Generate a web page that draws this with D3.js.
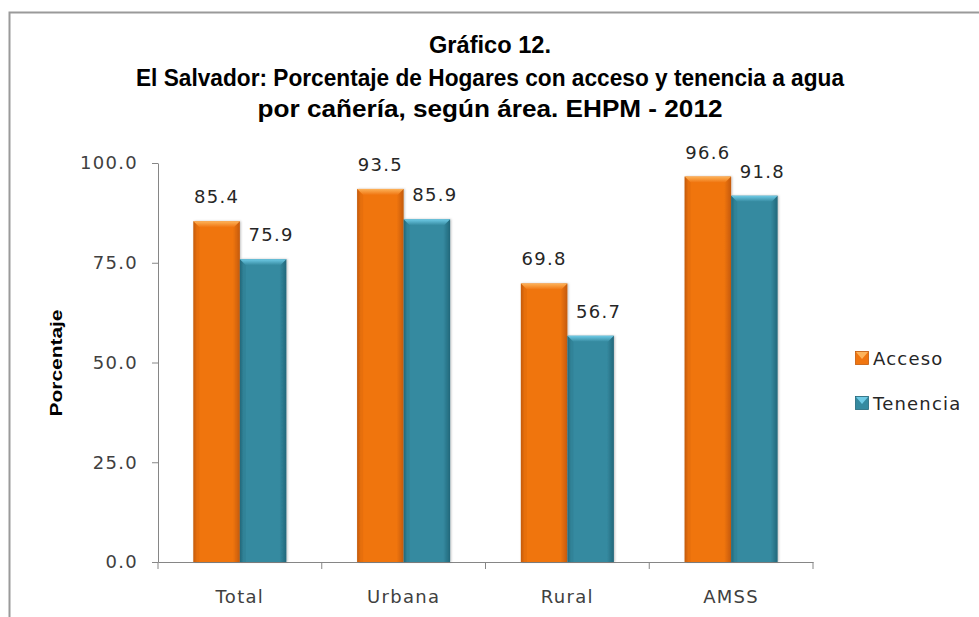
<!DOCTYPE html>
<html><head><meta charset="utf-8">
<script src="https://cdn.jsdelivr.net/npm/d3@7"></script>
<style>body{margin:0;background:#fff}</style>
</head><body>
<svg id="c" width="979" height="617"></svg>
<script>
const categories = ["Total","Urbana","Rural","AMSS"];
const acceso = [85.4, 93.5, 69.8, 96.6];
const tenencia = [75.9, 85.9, 56.7, 91.8];
const seriesNames = ["Acceso","Tenencia"];
const yTicks = [0,25,50,75,100];
const titleLines = ["Gráfico 12.","El Salvador: Porcentaje de Hogares con acceso y tenencia a agua","por cañería, según área.  EHPM - 2012"];

const svg = d3.select("#c");
const m={l:158,r:813,t:163,b:562};
const x = d3.scaleBand().domain(categories).range([m.l,m.r]).paddingInner(0).paddingOuter(0);
const y = d3.scaleLinear().domain([0,100]).range([m.b,m.t]);
const xs = d3.scaleBand().domain(seriesNames).range([0,x.bandwidth()]).paddingInner(0).paddingOuter(0.76);

const defs = svg.append("defs");
const colors = {Acceso:{base:"#F07510",dark:"#C45A08",light:"#FDB35A"},Tenencia:{base:"#358AA0",dark:"#22677A",light:"#6FCBE6"}};
Object.entries(colors).forEach(([k,c])=>{
  const g=defs.append("linearGradient").attr("id","g"+k).attr("x1","0").attr("x2","1");
  g.append("stop").attr("offset","0").attr("stop-color",c.dark);
  g.append("stop").attr("offset","0.08").attr("stop-color",c.base);
  g.append("stop").attr("offset","0.85").attr("stop-color",c.base);
  g.append("stop").attr("offset","1").attr("stop-color",c.dark);
  const t=defs.append("linearGradient").attr("id","t"+k).attr("x1","0").attr("x2","0").attr("y1","0").attr("y2","1");
  t.append("stop").attr("offset","0").attr("stop-color",c.light);
  t.append("stop").attr("offset","1").attr("stop-color",c.base);
});
const f=defs.append("filter").attr("id","sh").attr("x","-20%").attr("y","-5%").attr("width","140%").attr("height","110%");
f.append("feDropShadow").attr("dx",1).attr("dy",0).attr("stdDeviation",1.2).attr("flood-color","#000").attr("flood-opacity",0.25);

// border
svg.append("path").attr("d",`M9.5,617 V12.5 H979`).attr("fill","none").attr("stroke","#9a9a9a").attr("stroke-width",2);

// title
const font = "'Liberation Sans',Arial,sans-serif";
const tY=[53,86,117], tLen=[122,708,465];
titleLines.forEach((s,i)=>{
  svg.append("text").attr("x",490).attr("y",tY[i]).attr("text-anchor","middle").attr("font-family",font).attr("font-weight","bold").attr("font-size",23)
    .attr("textLength",tLen[i]).attr("lengthAdjust","spacingAndGlyphs").text(s);
});

const lblFont="'DejaVu Sans',Verdana,sans-serif";
// y axis
const ya = svg.append("g").attr("transform",`translate(${m.l},0)`).call(d3.axisLeft(y).tickValues(yTicks).tickFormat(d3.format(".1f")).tickSize(6).tickSizeOuter(0));
ya.select(".domain").attr("stroke","#868686");
ya.selectAll(".tick line").attr("stroke","#868686");
ya.selectAll(".tick text").attr("font-family",lblFont).attr("font-size",18).attr("letter-spacing",1.3).attr("fill","#404040").attr("x",-20);

// x axis
const xa = svg.append("g").attr("transform",`translate(0,${m.b})`).call(d3.axisBottom(x).tickSize(0).tickSizeOuter(0));
xa.select(".domain").attr("stroke","#868686");
xa.selectAll(".tick text").attr("font-family",lblFont).attr("font-size",18).attr("letter-spacing",1.3).attr("fill","#404040").attr("dy",0).attr("y",41);
const bounds = categories.map(c=>x(c)).concat([m.r]);
svg.append("g").selectAll("line").data(bounds).join("line")
  .attr("x1",d=>d).attr("x2",d=>d).attr("y1",m.b).attr("y2",m.b+7).attr("stroke","#868686");

// bars
const data = seriesNames.map((s,si)=>({s, vals:(si===0?acceso:tenencia)}));
const bars = svg.append("g");
data.forEach(({s,vals})=>{
  categories.forEach((c,i)=>{
    const v=vals[i];
    const x0=x(c)+xs(s), w=xs.bandwidth(), y0=y(v), h=y(0)-y(v);
    const g=bars.append("g");
    g.append("rect").attr("x",x0).attr("y",y0).attr("width",w).attr("height",h).attr("fill",`url(#g${s})`).attr("filter","url(#sh)");
    const b=6;
    g.append("path").attr("d",`M${x0},${y0} H${x0+w} L${x0+w-b},${y0+b} H${x0+b} Z`).attr("fill",`url(#t${s})`);
    g.append("path").attr("d",`M${x0},${y0} L${x0+b},${y0+b} V${y(0)} H${x0} Z`).attr("fill",colors[s].dark).attr("opacity",0.2);
    svg.append("text").attr("x",x0+w/2+(s==="Tenencia"?8:0)).attr("y",y0-18).attr("text-anchor","middle")
      .attr("font-family",lblFont).attr("font-size",18).attr("letter-spacing",1.3).attr("fill","#262626").text(d3.format(".1f")(v));
  });
});

// legend
const lg = svg.append("g");
seriesNames.forEach((s,i)=>{
  const yy=365+i*45;
  lg.append("rect").attr("x",855.5).attr("y",yy-13.5).attr("width",13).attr("height",13).attr("fill",colors[s].base).attr("stroke",colors[s].dark).attr("stroke-width",0.8);
  lg.append("path").attr("d",`M856,${yy-13} H868 L862,${yy-6} Z`).attr("fill",colors[s].light);
  lg.append("text").attr("x",873).attr("y",yy).attr("font-family",lblFont).attr("font-size",18).attr("letter-spacing",1.2).attr("fill","#262626").text(s);
});

// y title
svg.append("text").attr("transform","translate(62,363) rotate(-90)").attr("text-anchor","middle")
  .attr("font-family",font).attr("font-weight","bold").attr("font-size",17).attr("textLength",107).attr("lengthAdjust","spacingAndGlyphs").text("Porcentaje");
</script>
</body></html>
